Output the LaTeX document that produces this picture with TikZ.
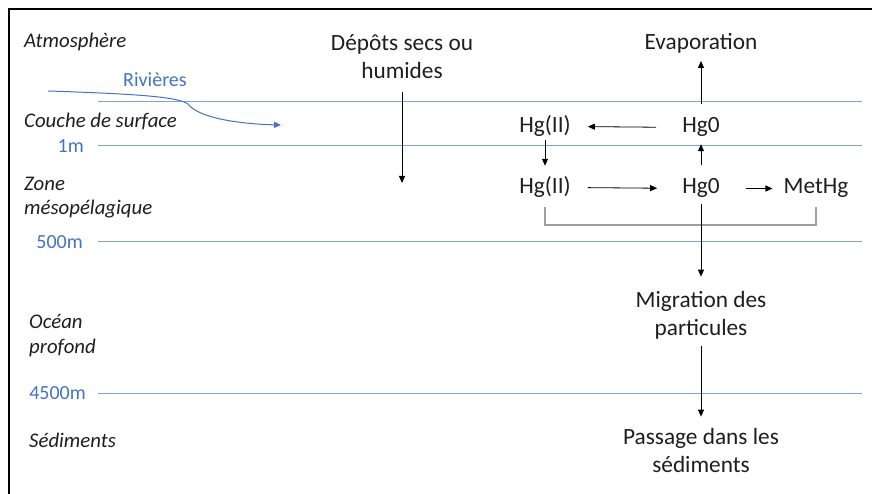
\documentclass[tikz,border=0pt]{standalone}
\usepackage{fontspec}
\setmainfont{Carlito}
\usetikzlibrary{arrows.meta}
\definecolor{oblue}{HTML}{4472C4}
\definecolor{lblue}{HTML}{7F9FD8}
\definecolor{txt}{HTML}{1E1E1E}
\begin{document}
\begin{tikzpicture}[x=1pt,y=-1pt,
  zone/.style={font=\fontsize{20.8}{24.5}\selectfont\itshape, text=txt, anchor=base west, align=left, inner sep=0},
  depth/.style={font=\fontsize{20}{24}\selectfont, text=oblue, anchor=base east, inner sep=0},
  chem/.style={font=\fontsize{23.3}{28}\selectfont, text=txt, align=center, anchor=base, inner sep=0},
  arr/.style={draw=black, line width=0.8pt, -{Triangle[length=7pt,width=6pt]}},
  layer/.style={draw=lblue, line width=1pt},
  bracket/.style={draw=gray!75, line width=1.5pt}]
\useasboundingbox (0,0) rectangle (872,494);
% frame
\draw[line width=2pt, black] (9,494) -- (9,9) -- (872,9);
% layer lines
\coordinate (l1a) at (98,102);  \coordinate (l1b) at (862,102);
\coordinate (l2a) at (98,146);  \coordinate (l2b) at (862,146);
\coordinate (l3a) at (98,242);  \coordinate (l3b) at (862,242);
\coordinate (l4a) at (98,393);  \coordinate (l4b) at (862,393);
\draw[layer] (l1a) -- (l1b);
\draw[layer] (l2a) -- (l2b);
\draw[layer] (l3a) -- (l3b);
\draw[layer] (l4a) -- (l4b);
% zone labels
\node[zone] (atm) at (24,48) {Atmosphère};
\node[zone] (cds) at (24,128) {Couche de surface};
\node[zone] (zm) at (24,215) {Zone\\mésopélagique};
\node[zone] (op) at (29,353) {Océan\\profond};
\node[zone] (sed) at (29,447) {Sédiments};
% depths
\node[depth] (d1) at (84,153) {1m};
\node[depth] (d500) at (83,248) {500m};
\node[depth] (d4500) at (86,399) {4500m};
% rivers
\node[font=\fontsize{20}{24}\selectfont, text=oblue, anchor=base, inner sep=0] (riv) at (155,87) {Rivières};
\coordinate (rivs) at (48,91);
\coordinate (rive) at (281,125);
\draw[draw=oblue, line width=1pt, -{Triangle[length=7pt,width=6pt]}]
  (rivs) .. controls (140,94) and (178,97) .. (188,104)
  .. controls (198,118) and (240,124) .. (rive);
% chemistry
\node[chem] (dep) at (402,79) {Dépôts secs ou\\humides};
\coordinate (depend) at (402,183);
\node[chem] (evap) at (701,50) {Evaporation};
\node[chem] (hg2a) at (545,133) {Hg(II)};
\node[chem] (hg0a) at (701,133) {Hg0};
\node[chem] (hg2b) at (545,194) {Hg(II)};
\node[chem] (hg0b) at (701,194) {Hg0};
\node[chem] (met) at (816,194) {MetHg};
\node[chem] (migr) at (701,335) {Migration des\\particules};
\node[chem] (pass) at (701,472) {Passage dans les\\sédiments};
% connectors
\draw[arr, shorten <=13pt] (dep.south) -- (depend);
\draw[arr, shorten <=14pt, shorten >=7pt] (hg0a.north) -- (evap.south);
\draw[arr, shorten <=26pt, shorten >=17pt] (hg0a.west) -- (hg2a.east);
\draw[arr, shorten <=3pt, shorten >=11pt] (hg2a.south) -- (hg2b.north);
\draw[arr, shorten <=14pt, shorten >=7pt] (hg0b.north) -- (hg0a.south);
\draw[arr, shorten <=17pt, shorten >=25pt] (hg2b.east) -- (hg0b.west);
\draw[arr, shorten <=26pt, shorten >=11pt] (hg0b.east) -- (met.west);
\draw[bracket] ([yshift=-13pt]hg2b.base) -- ++(0,18) -| ([yshift=-13pt]met.base);
\draw[arr, shorten <=6pt, shorten >=14pt] (hg0b.south) -- (migr.north);
\draw[arr, shorten <=7pt, shorten >=11pt] (migr.south) -- (pass.north);
\end{tikzpicture}
\end{document}
